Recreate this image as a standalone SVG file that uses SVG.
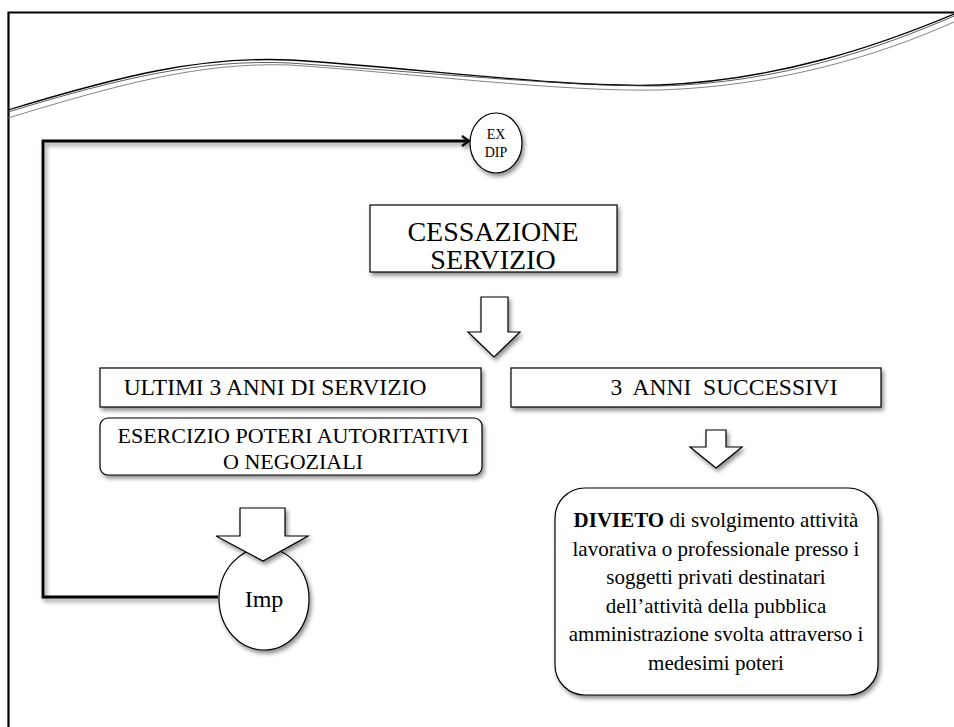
<svg xmlns="http://www.w3.org/2000/svg" width="954" height="727" viewBox="0 0 954 727">
<defs>
<filter id="sh" x="-20%" y="-20%" width="150%" height="160%">
<feDropShadow dx="2" dy="3" stdDeviation="2" flood-color="#000" flood-opacity="0.45"/>
</filter>
<marker id="ah" markerWidth="12" markerHeight="12" refX="9" refY="6" orient="auto" markerUnits="userSpaceOnUse">
<path d="M2,1 L9,6 L2,11" fill="none" stroke="#000" stroke-width="2.2"/>
</marker>
</defs>
<style>
.box{fill:#fff;stroke:#000;stroke-width:1.2;filter:url(#sh)}
.t{font-family:"Liberation Serif","DejaVu Serif",serif;fill:#000;text-anchor:middle}
.conn{fill:none;stroke:#000;stroke-width:2.8;filter:url(#sh)}
</style>
<rect width="954" height="727" fill="#fff"/>
<g id="frame">
<path d="M8.5,727 L8.5,12.5 L954,12.5" fill="none" stroke="#000" stroke-width="2.2"/>
<path d="M8,110 C120,76 200,56 290,60 C420,68 560,88 660,85 C780,80 880,45 954,14" fill="none" stroke="#000" stroke-width="1.3"/>
<path d="M8,112 C120,78 200,59 290,63 C420,72 560,86 660,86 C780,83 880,48 954,16" fill="none" stroke="#333" stroke-width="0.8"/>
<path d="M8,118 C120,84 200,62 290,65 C420,74 560,92 660,90 C780,86 880,55 954,22" fill="none" stroke="#777" stroke-width="0.9"/>
</g>
<g id="connectors">
<path class="conn" d="M218,597 L43,597 L43,141 L469,141" marker-end="url(#ah)"/>
</g>
<g id="exdip">
<ellipse class="box" cx="496" cy="143" rx="26" ry="30"/>
<text class="t" x="496" y="139" font-size="14">EX</text>
<text class="t" x="496" y="157" font-size="14">DIP</text>
</g>
<g id="cessazione">
<rect class="box" x="370" y="205" width="247" height="67"/>
<text class="t" x="493" y="241" font-size="28">CESSAZIONE</text>
<text class="t" x="493" y="269" font-size="28">SERVIZIO</text>
</g>
<g id="arrow1">
<path class="box" d="M481,297 L508,297 L508,332 L520,332 L494,357 L468,332 L481,332 Z"/>
</g>
<g id="ultimi">
<rect class="box" x="100" y="368" width="381" height="39"/>
<text class="t" x="275" y="395" font-size="23.5">ULTIMI 3 ANNI DI SERVIZIO</text>
</g>
<g id="successivi">
<rect class="box" x="511" y="368" width="370" height="39"/>
<text class="t" x="724" y="395" font-size="23.5" xml:space="preserve">3  ANNI  SUCCESSIVI</text>
</g>
<g id="esercizio">
<rect class="box" x="100" y="418" width="382" height="57" rx="8"/>
<text class="t" x="293" y="443" font-size="22">ESERCIZIO POTERI AUTORITATIVI</text>
<text class="t" x="293" y="469" font-size="22">O NEGOZIALI</text>
</g>
<g id="imp">
<ellipse class="box" cx="264" cy="599" rx="45" ry="51"/>
<text class="t" x="264" y="607" font-size="24">Imp</text>
</g>
<g id="arrow2">
<path class="box" d="M240,508 L285,508 L285,536 L308,536 L263,561 L216,536 L240,536 Z"/>
</g>
<g id="arrow3">
<path class="box" d="M706,430 L726,430 L726,447 L742,447 L716,468 L690,447 L706,447 Z"/>
</g>
<g id="divieto">
<rect class="box" x="555" y="488" width="323" height="207" rx="30"/>
<text class="t" x="716" y="527" font-size="21"><tspan font-weight="bold">DIVIETO</tspan> di svolgimento attività</text>
<text class="t" x="716" y="556" font-size="21">lavorativa o professionale presso i</text>
<text class="t" x="716" y="584" font-size="21">soggetti privati destinatari</text>
<text class="t" x="716" y="613" font-size="21">dell’attività della pubblica</text>
<text class="t" x="716" y="641" font-size="21">amministrazione svolta attraverso i</text>
<text class="t" x="716" y="670" font-size="21">medesimi poteri</text>
</g>
</svg>
